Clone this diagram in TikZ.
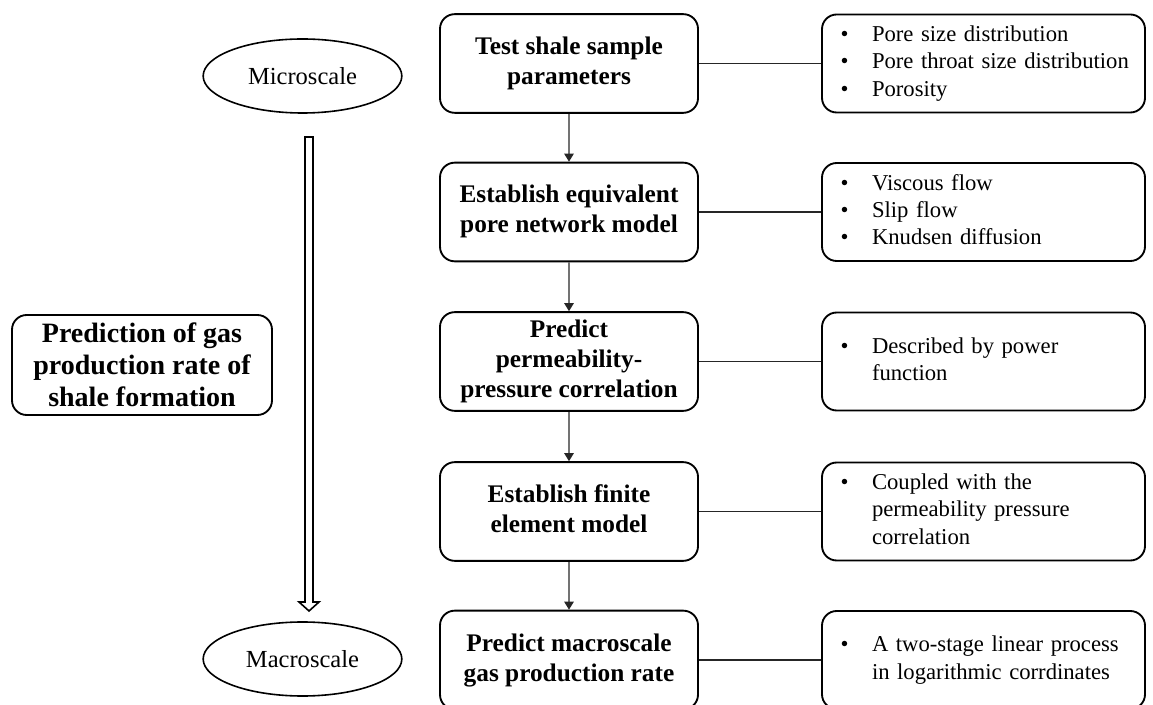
\documentclass[tikz,border=0pt]{standalone}
\usepackage{fontspec}
\setmainfont{Liberation Serif}
\usetikzlibrary{arrows.meta,shapes.geometric}
\newcommand{\mtext}[1]{\raisebox{-2pt}{\begin{tabular}{@{}c@{}}#1\end{tabular}}}
\newcommand{\ntext}[1]{\raisebox{-1.5pt}{\begin{tabular}{@{}p{23.5pt}@{}l@{}}#1\end{tabular}}}
\newcommand{\blt}{\textbullet}
\begin{document}
\begin{tikzpicture}[x=0.75pt,y=-0.75pt,
  box/.style={draw=black,line width=1.4pt,rounded corners=11pt},
  mainbox/.style={box,minimum width=193.5pt,minimum height=74pt,inner sep=2pt,align=center,
    font=\fontsize{19}{22.5}\selectfont\bfseries},
  notebox/.style={box,minimum width=242.25pt,minimum height=73.5pt,inner xsep=14pt,inner ysep=2pt,
    text width=214.25pt,align=left,font=\fontsize{17}{20.5}\selectfont},
  leftbox/.style={box,minimum width=195pt,minimum height=75pt,inner sep=2pt,align=center,
    font=\fontsize{21}{24}\selectfont\bfseries},
  scalebubble/.style={draw=black,line width=1.2pt,ellipse,minimum width=149pt,minimum height=55.5pt,inner sep=0pt,
    font=\fontsize{18.4}{22}\selectfont},
  vline/.style={draw=black!55,line width=1.1pt,-{Triangle[length=6pt,width=7pt,fill=black!85,color=black!85]}},
  hline/.style={draw=black!85,line width=1.2pt},
  hollow/.style={draw=black,line width=1.2pt,line join=miter,fill=white}
]
\useasboundingbox (0,0) rectangle (1153,705);
\clip (0,0) rectangle (1153,705);
% main column
\node[mainbox] (m1) at (569,63.5) {\mtext{Test shale sample\\parameters}};
\node[mainbox] (m2) at (569,212) {\mtext{Establish equivalent\\pore network model}};
\node[mainbox] (m3) at (569,361.5) {\mtext{Predict\\permeability-\\pressure correlation}};
\node[mainbox] (m4) at (569,511.5) {\mtext{Establish finite\\element model}};
\node[mainbox] (m5) at (569,660) {\mtext{Predict macroscale\\gas production rate}};
% notes
\node[notebox] (n1) at (983.5,63.5) {\ntext{\blt&Pore size distribution\\\blt&Pore throat size distribution\\\blt&Porosity}};
\node[notebox] (n2) at (983.5,212) {\ntext{\blt&Viscous flow\\\blt&Slip flow\\\blt&Knudsen diffusion}};
\node[notebox] (n3) at (983.5,361.5) {\ntext{\blt&Described by power\\&function}};
\node[notebox] (n4) at (983.5,511.5) {\ntext{\blt&Coupled with the\\&permeability pressure\\&correlation}};
\node[notebox] (n5) at (983.5,660) {\ntext{\blt&A two-stage linear process\\&in logarithmic corrdinates}};
% left side
\node[leftbox] (lb) at (142,365) {Prediction of gas\\production rate of\\shale formation};
\node[scalebubble] (mic) at (302.5,76) {\makebox[0pt]{Microscale}};
\node[scalebubble] (mac) at (302.5,659) {\makebox[0pt]{Macroscale}};
% hollow arrow
\draw[hollow] (305,137) -- (313,137) -- (313,602) -- (319,602) -- (309,611) -- (299,602) -- (305,602) -- cycle;
% connectors
\draw[vline] (m1) -- (m2);
\draw[vline] (m2) -- (m3);
\draw[vline] (m3) -- (m4);
\draw[vline] (m4) -- (m5);
\draw[hline] (m1) -- (n1);
\draw[hline] (m2) -- (n2);
\draw[hline] (m3) -- (n3);
\draw[hline] (m4) -- (n4);
\draw[hline] (m5) -- (n5);
\end{tikzpicture}
\end{document}
